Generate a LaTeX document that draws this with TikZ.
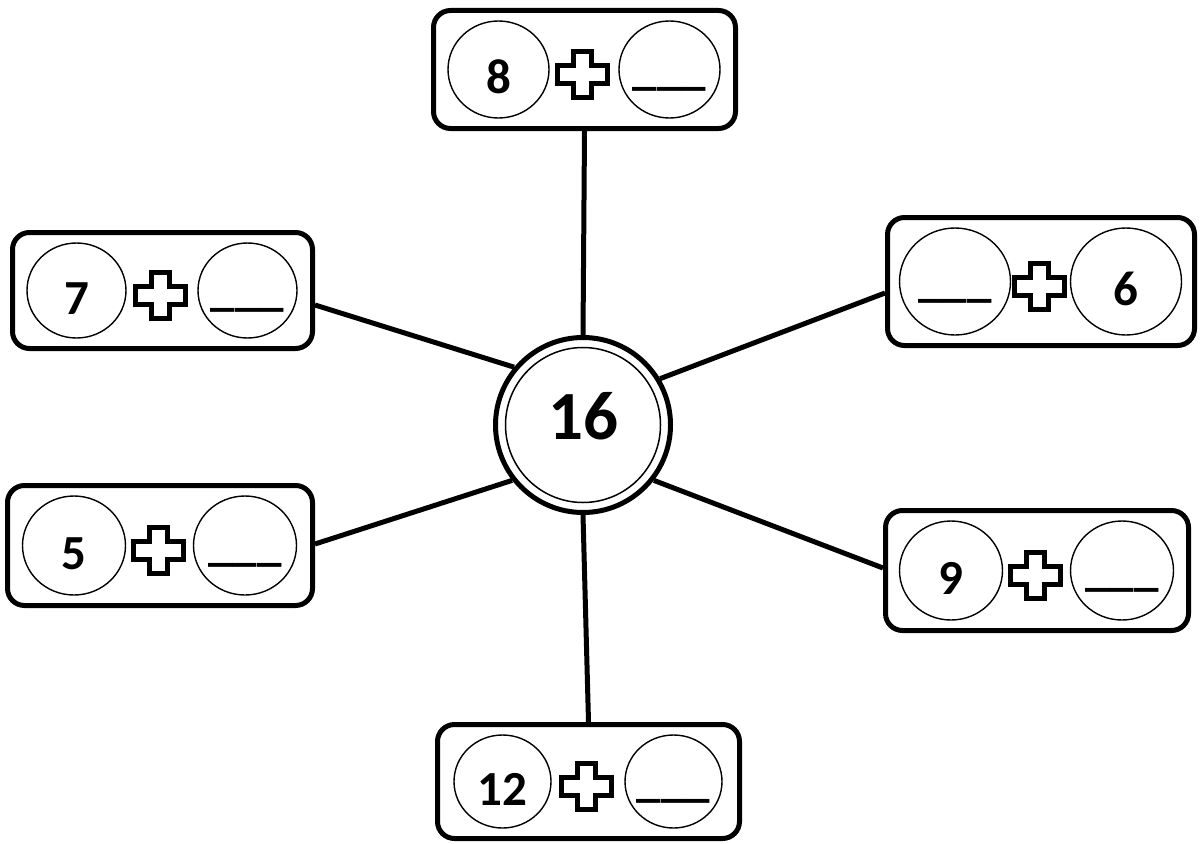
\documentclass[tikz,border=0pt]{standalone}
\usepackage{fontspec}
\setmainfont{Carlito}
\usetikzlibrary{shapes.geometric}
\tikzset{
  eqframe/.style={draw, line width=5pt, rounded corners=17pt, inner sep=0pt, fill=white},
  numcirc/.style={draw, ellipse, line width=1.4pt, inner sep=0pt},
  numtxt/.style={font=\fontsize{49}{52}\selectfont\bfseries, inner sep=0pt, anchor=base},
  plusline/.style={draw, line width=5pt, fill=white, line join=miter},
  spoke/.style={line width=5pt},
  hub/.style={draw, circle, line width=5pt, minimum size=175pt, inner sep=0pt},
  hubin/.style={draw, circle, line width=1.5pt, minimum size=155pt, inner sep=0pt},
  hubtxt/.style={font=\fontsize{69}{72}\selectfont\bfseries, inner sep=0pt, anchor=base},
}
% name, cx, cy, outer width, outer height, left content, right content
\newcommand\eqbox[7]{%
  \node[eqframe, minimum width=#4pt-5pt, minimum height=#5pt-5pt] (#1) at (#2,#3) {};
  \node[numcirc, minimum width=#5pt-22pt, minimum height=#5pt-26pt] (#1-l) at ([xshift=-86pt]#1.center) {};
  \node[numcirc, minimum width=#5pt-22pt, minimum height=#5pt-26pt] (#1-r) at ([xshift=85pt]#1.center) {};
  \draw[plusline] ([xshift=-2pt,yshift=-5pt]#1.center) ++(-9,-23) -- ++(18,0) -- ++(0,14) -- ++(16,0)
     -- ++(0,18) -- ++(-16,0) -- ++(0,14) -- ++(-18,0) -- ++(0,-14) -- ++(-16,0) -- ++(0,-18) -- ++(16,0) -- cycle;
  #6
  #7
}
\newcommand\numin[2]{\node[numtxt] (#1-t) at ([yshift=-23.5pt]#1.center) {#2};}
\newcommand\blankin[1]{\node[numtxt] (#1-t) at ([yshift=-15pt]#1.center) {\_\_\_};}
\begin{document}
\begin{tikzpicture}[x=1pt, y=-1pt]
  \useasboundingbox (0,0) rectangle (1201,843);
  % hub
  \node[hub] (c) at (583,425) {};
  \node[hubin] (ci) at (c.center) {};
  \node[hubtxt] (ct) at ([yshift=-14.5pt]c.center) {16};
  % boxes
  \eqbox{t}{584.5}{69.5}{307}{123}{\numin{t-l}{8}}{\blankin{t-r}}
  \eqbox{lt}{162.5}{290.5}{305}{121}{\numin{lt-l}{7}}{\blankin{lt-r}}
  \eqbox{rt}{1041}{281.5}{312}{133}{\blankin{rt-l}}{\numin{rt-r}{6}}
  \eqbox{lb}{160}{545.5}{310}{125}{\numin{lb-l}{5}}{\blankin{lb-r}}
  \eqbox{rb}{1037}{570.5}{308}{125}{\numin{rb-l}{9}}{\blankin{rb-r}}
  \eqbox{b}{588.5}{781.5}{307}{119}{\numin{b-l}{12}}{\blankin{b-r}}
  % spokes
  \draw[spoke] (c.90) -- (t.south);
  \draw[spoke] (c.270) -- (b.north);
  \draw[spoke] ([yshift=-14.5pt]lt.east) -- (c.140);
  \draw[spoke] ([yshift=-11.5pt]rt.west) -- (c.31);
  \draw[spoke] ([yshift=1.5pt]lb.east) -- (c.218);
  \draw[spoke] ([yshift=2.5pt]rb.west) -- (c.-38);
\end{tikzpicture}
\end{document}
